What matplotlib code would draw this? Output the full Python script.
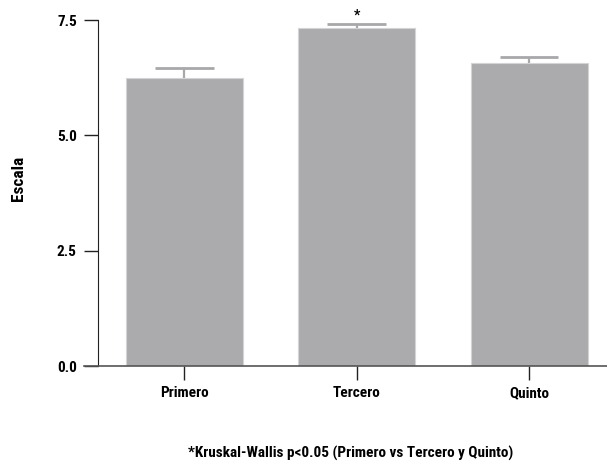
import matplotlib
matplotlib.use('Agg')
import matplotlib.pyplot as plt
from matplotlib import font_manager

# Datos
grupos = ['Primero', 'Tercero', 'Quinto']
medias = [6.24, 7.33, 6.57]
errores = [0.22, 0.09, 0.12]
marcas = ['', '*', '']
nota = '*Kruskal-Wallis p<0.05 (Primero vs Tercero y Quinto)'
y_ticks = [0.0, 2.5, 5.0, 7.5]

names = {f.name for f in font_manager.fontManager.ttflist}
fam = 'DejaVu Sans'
for cand in ['Roboto Condensed', 'Liberation Sans Narrow', 'Roboto', 'Liberation Sans']:
    if cand in names:
        fam = cand
        break
plt.rcParams['font.family'] = [fam, 'DejaVu Sans']
plt.rcParams['font.weight'] = 'bold'
plt.rcParams['font.size'] = 11

fig = plt.figure(figsize=(6.07, 4.61), dpi=100)
ax = fig.add_axes([84 / 607, 95 / 461, 523 / 607, 346 / 461])

x = list(range(len(grupos)))
ax.bar(x, medias, width=0.68, color='#ababad', edgecolor='#d4d4d6', linewidth=0.8, zorder=2)

# barras de error solo hacia arriba
tops = [m + e for m, e in zip(medias, errores)]
ax.vlines(x, medias, tops, color='#a8a8aa', linewidth=1.6, zorder=3)
ax.hlines(tops, [i - 0.17 for i in x], [i + 0.17 for i in x], color='#a8a8aa', linewidth=2, zorder=3)

for i, m in enumerate(marcas):
    if m:
        ax.text(i, tops[i] + 0.18, m, ha='center', va='center', fontsize=10, clip_on=False)

ax.set_xlim(-0.583, 2.452)
ax.set_ylim(0, 7.5)
ax.set_xticks(x)
ax.set_xticklabels(grupos, va='baseline')
ax.set_yticks(y_ticks)
ax.set_yticklabels(['%.1f' % v for v in y_ticks])

ax.spines['top'].set_visible(False)
ax.spines['right'].set_visible(False)
ax.spines['left'].set_position(('axes', 13.7 / 523))
ax.spines['left'].set_color('#222222')
ax.spines['bottom'].set_color('#555555')
ax.spines['bottom'].set_linewidth(1.2)
ax.tick_params(axis='both', direction='out', length=10, width=1, color='#222222', pad=5)
ax.tick_params(axis='x', pad=12.5)

fig.text(18 / 607, 1 - 178 / 461, 'Escala', rotation=90, ha='center', va='center', fontsize=12.5)
fig.text(351 / 607, 1 - 453 / 461, nota, ha='center', va='center')

fig.savefig('out.png', dpi=100)
